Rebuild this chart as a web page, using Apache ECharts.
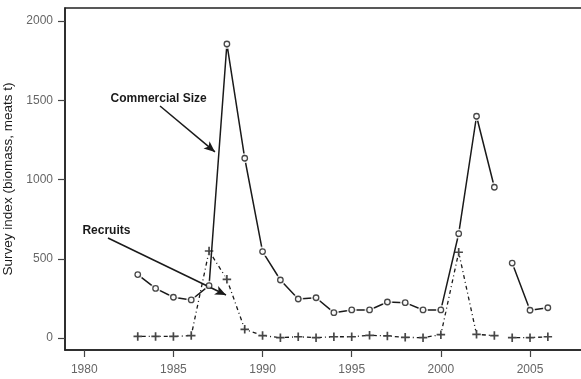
<!DOCTYPE html>
<html>
<head>
<meta charset="utf-8">
<script src="https://cdn.jsdelivr.net/npm/echarts@6/dist/echarts.min.js"></script>
<style>
  html, body { margin: 0; padding: 0; background: #fff; }
  #chart { width: 581px; height: 379px; }
</style>
</head>
<body>
<div id="chart"></div>
<script>
// Survey years and indices (biomass, meats t)
const years = [1983, 1984, 1985, 1986, 1987, 1988, 1989, 1990, 1991, 1992, 1993, 1994,
               1995, 1996, 1997, 1998, 1999, 2000, 2001, 2002, 2003, 2004, 2005, 2006];
const commercialSize = [400, 313, 257, 240, 330, 1855, 1134, 545, 366, 246, 254, 160,
                        177, 177, 227, 223, 177, 177, 658, 1399, 951, 473, 175, 191];
const recruits = [10, 10, 10, 15, 549, 370, 55, 15, 2, 8, 2, 8,
                  8, 17, 13, 4, 2, 21, 541, 23, 15, 2, 2, 8];
// the series are not joined across this year boundary
const seriesBreakAfter = 2003;

const xTicks = [1980, 1985, 1990, 1995, 2000, 2005];
const yTicks = [0, 500, 1000, 1500, 2000];

// labelled arrows, in data units: [text anchor], [arrow tail], [arrow head]
const annotations = [
  { text: 'Commercial Size', at: [1981.45, 1510], from: [1984.25, 1464], to: [1987.33, 1174] },
  { text: 'Recruits',        at: [1979.87, 675],  from: [1981.33, 631],  to: [1987.95, 271] }
];

const INK = '#1a1a1a';

function pairs(vals) { return years.map((y, i) => [y, vals[i]]); }
function segments(vals) {
  const p = pairs(vals);
  return [p.filter(d => d[0] <= seriesBreakAfter), p.filter(d => d[0] > seriesBreakAfter)];
}

const plusPath = 'path://M3.2,0h1.6v3.2h3.2v1.6h-3.2v3.2h-1.6v-3.2h-3.2v-1.6h3.2z';

const series = [];

// recruits: dot-dash line with plus markers
segments(recruits).forEach(seg => series.push({
  type: 'line', data: seg, showSymbol: false, z: 1, silent: true,
  lineStyle: { color: INK, width: 1.3, type: [1, 3, 4, 3] }
}));
series.push({
  type: 'scatter', data: pairs(recruits), z: 2, silent: true,
  symbol: 'circle', symbolSize: 8, itemStyle: { color: '#fff' }
});

// commercial size: solid line with open circles
segments(commercialSize).forEach(seg => series.push({
  type: 'line', data: seg, showSymbol: false, z: 3, silent: true,
  lineStyle: { color: INK, width: 1.5, type: 'solid' }
}));
series.push({
  type: 'scatter', data: pairs(commercialSize), z: 4, silent: true,
  symbol: 'circle', symbolSize: 10, itemStyle: { color: '#fff' }
});
series.push({
  type: 'scatter', data: pairs(commercialSize), z: 5, silent: true,
  symbol: 'circle', symbolSize: 5.5,
  itemStyle: { color: '#fff', borderColor: INK, borderWidth: 1.3 }
});
series.push({
  type: 'scatter', data: pairs(recruits), z: 6, silent: true,
  symbol: plusPath, symbolSize: 8.5, itemStyle: { color: INK }
});

// annotation arrows and their captions
series.push({
  type: 'scatter', data: [], z: 7, silent: true,
  markLine: {
    silent: true, animation: false,
    symbol: ['none', 'arrow'], symbolSize: [7, 11],
    label: { show: false },
    lineStyle: { color: INK, width: 1.5, type: 'solid' },
    data: annotations.map(a => [{ coord: a.from }, { coord: a.to }])
  },
  markPoint: {
    silent: true, animation: false,
    symbol: 'rect', symbolSize: [1, 1],
    itemStyle: { color: 'rgba(0,0,0,0)' },
    label: {
      show: true, position: 'right', distance: 0,
      color: INK, fontFamily: 'Liberation Sans', fontWeight: 'bold', fontSize: 12,
      formatter: p => p.name
    },
    data: annotations.map(a => ({ name: a.text, coord: a.at }))
  }
});

const plain = v => String(v);

const chart = echarts.init(document.getElementById('chart'), null, { renderer: 'canvas' });
chart.setOption({
  animation: false,
  backgroundColor: '#fff',
  grid: {
    left: 65, top: 8, bottom: 29, right: -10,
    outerBoundsMode: 'none', containLabel: false,
    show: true, borderColor: '#222', borderWidth: 1.5, backgroundColor: 'transparent'
  },
  xAxis: {
    type: 'value', min: 1978.92, max: 2008.42,
    axisLine: { show: true, onZero: false, lineStyle: { color: '#222', width: 1.5 } },
    splitLine: { show: false },
    axisTick: { show: true, inside: false, length: 7, lineStyle: { color: '#444', width: 1.2 }, customValues: xTicks },
    axisLabel: {
      customValues: xTicks, margin: 14, formatter: plain,
      color: '#666', fontFamily: 'Liberation Sans', fontSize: 12
    }
  },
  yAxis: {
    type: 'value', min: -75.7, max: 2082,
    name: 'Survey index (biomass, meats t)',
    nameLocation: 'middle', nameGap: 44,
    nameTextStyle: { color: INK, fontFamily: 'Liberation Sans', fontSize: 13.5 },
    axisLine: { show: true, onZero: false, lineStyle: { color: '#222', width: 1.5 } },
    splitLine: { show: false },
    axisTick: { show: true, inside: false, length: 7, lineStyle: { color: '#444', width: 1.2 }, customValues: yTicks },
    axisLabel: {
      customValues: yTicks, margin: 12, formatter: plain,
      color: '#666', fontFamily: 'Liberation Sans', fontSize: 12
    }
  },
  series: series
});
</script>
</body>
</html>
